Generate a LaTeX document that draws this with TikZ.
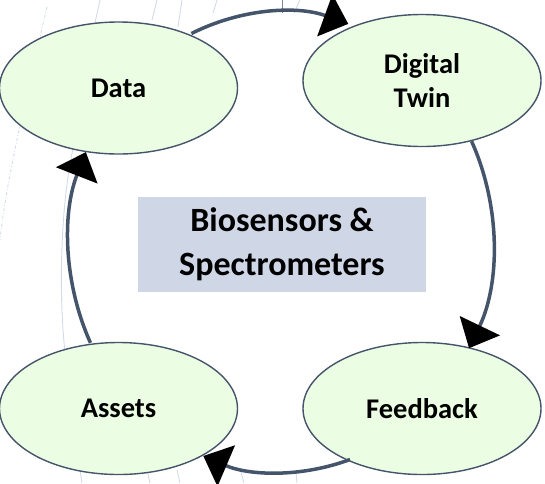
\documentclass[tikz,border=0pt]{standalone}
\usepackage{fontspec}
\setmainfont{Carlito}
\usetikzlibrary{shapes.geometric,arrows.meta,calc}
\definecolor{slate}{HTML}{44546A}
\definecolor{leaf}{HTML}{EBFDE3}
\definecolor{panel}{HTML}{CFD6E6}
\definecolor{faint}{HTML}{D3DBE9}
\begin{document}
\begin{tikzpicture}[x=1pt,y=1pt,
  stage/.style={ellipse, draw=slate, line width=1.4pt, fill=leaf,
    minimum width=238pt, minimum height=132pt, inner sep=0pt, align=center,
    font=\fontsize{28.5}{33.6}\selectfont\bfseries},
  hub/.style={fill=panel, minimum width=288pt, minimum height=95pt,
    inner sep=0pt, align=center, font=\fontsize{34}{44}\selectfont\bfseries},
  loopline/.style={draw=slate, line width=3.5pt,
    -{Triangle[length=25pt,width=44pt,color=black]}},
  ghost/.style={draw=faint, line width=0.9pt}]
\useasboundingbox (0,0) rectangle (545,-483);
% faint background strokes
\draw[ghost, dash dot] (47,-7) .. controls (30,-80) and (6,-180) .. (0,-240);
\draw[ghost] (75,-140) .. controls (60,-200) and (58,-300) .. (66,-360);
\draw[ghost] (100,0) -- (95,-23);
\draw[ghost] (157,0) -- (152,-20);
\draw[ghost] (182,0) -- (178,-27);
\draw[ghost] (217,0) -- (213,-13);
\draw[ghost] (300,0) -- (294,-13);
\draw[draw=slate!70, line width=0.8pt] (282,0) -- (282,-13);
\draw[ghost] (80,-470) -- (82,-483);
\draw[ghost] (147,-470) -- (150,-483);
\draw[ghost] (177,-470) -- (180,-483);
\draw[ghost] (240,-468) -- (244,-483);
\draw[ghost] (296,-472) -- (297,-483);
% nodes
\node[hub] (hub) at (282,-244.5) {Biosensors \&\\Spectrometers};
\node[stage] (data) at (118.5,-88) {Data};
\node[stage] (twin) at (422,-80.5) {Digital\\Twin};
\node[stage] (feed) at (422,-408.5) {Feedback};
\node[stage] (assets) at (118.5,-408.5) {Assets};
% cycle connectors
\coordinate (hubc) at (281,-242);
\coordinate (s1) at ($(hubc)+(115:212 and 230)$);
\coordinate (s2) at ($(hubc)+(26:212 and 230)$);
\coordinate (s3) at ($(hubc)+(-71:212 and 230)$);
\coordinate (s4) at ($(hubc)+(206:212 and 230)$);
\draw[loopline] (s1) arc[start angle=115, end angle=71.5, x radius=212, y radius=230];
\draw[loopline] (s2) arc[start angle=26, end angle=-27.5, x radius=212, y radius=230];
\draw[loopline] (s3) arc[start angle=-71, end angle=-111.5, x radius=212, y radius=230];
\draw[loopline] (s4) arc[start angle=206, end angle=157, x radius=212, y radius=230];
\end{tikzpicture}
\end{document}
